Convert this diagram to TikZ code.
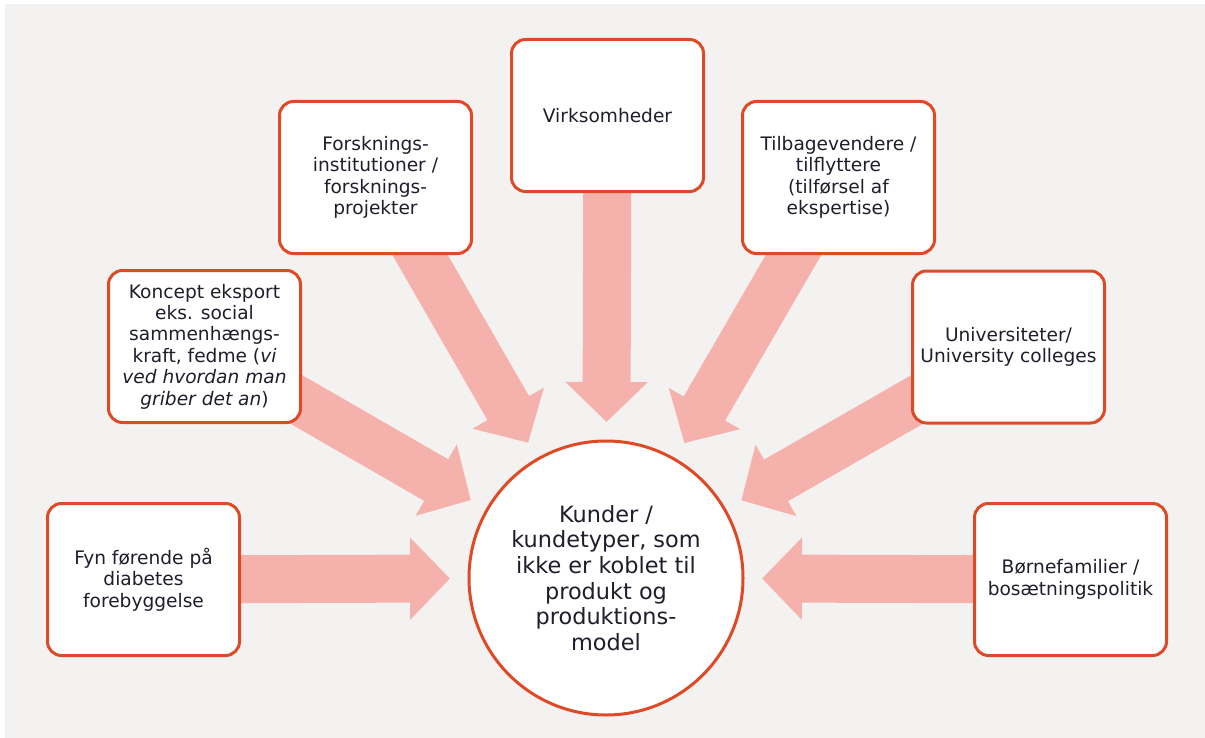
\documentclass[tikz,border=0pt]{standalone}
\usepackage{fontspec}
\setmainfont{DejaVu Sans}
\usetikzlibrary{arrows.meta,backgrounds}

\definecolor{rand}{RGB}{222,74,38}
\definecolor{pilfarve}{RGB}{245,178,172}
\definecolor{bund}{RGB}{244,242,240}
\definecolor{tekst}{RGB}{30,30,45}

\begin{document}
\begin{tikzpicture}[x=0.5pt,y=-0.5pt,
  boks/.style={draw=rand, line width=1.5pt, fill=white, rounded corners=7pt,
    minimum width=96pt, minimum height=76pt, align=center, text=tekst,
    inner sep=2pt, font=\fontsize{9.3pt}{10.7pt}\selectfont},
  midte/.style={circle, draw=rand, line width=1.5pt, fill=white,
    minimum size=137pt, align=center, text=tekst,
    font=\fontsize{11.2pt}{12.8pt}\selectfont},
  pil/.style={draw=pilfarve, line width=24pt,
    -{Triangle[length=20pt,width=40pt]}, shorten >=8.75pt}]

\useasboundingbox (0,0) rectangle (1205,738);

%% center
\node[midte] (kunde) at (606,578)
  {Kunder /\\kundetyper, som\\ikke er koblet til\\produkt og\\produktions-\\model};

%% boxes
\node[boks] (virk)    at (607.5,115.5) {Virksomheder};
\node[boks] (forsk)   at (375.5,177.5) {Forsknings-\\institutioner /\\forsknings-\\projekter};
\node[boks] (tilbage) at (838.5,177.5) {Tilbagevendere /\\tilflyttere\\(tilførsel af\\ekspertise)};
\node[boks] (koncept) at (204.5,346.5) {Koncept eksport\\eks. social\\sammenhængs-\\kraft, fedme (\textit{vi}\\\textit{ved hvordan man}\\\textit{griber det an})};
\node[boks] (univ)    at (1008.5,347)  {Universiteter/\\University colleges};
\node[boks] (fyn)     at (143.5,579.5) {Fyn førende på\\diabetes\\forebyggelse};
\node[boks] (boern)   at (1070.5,579.5) {Børnefamilier /\\bosætningspolitik};

\begin{pgfonlayer}{background}
\fill[bund] (5,4) rectangle (1205,738);

%% arrows into the circle
\foreach \kilde in {virk,forsk,tilbage,koncept,univ,fyn,boern}
  \draw[pil] (\kilde.center) -- (kunde);
\end{pgfonlayer}

\end{tikzpicture}
\end{document}
